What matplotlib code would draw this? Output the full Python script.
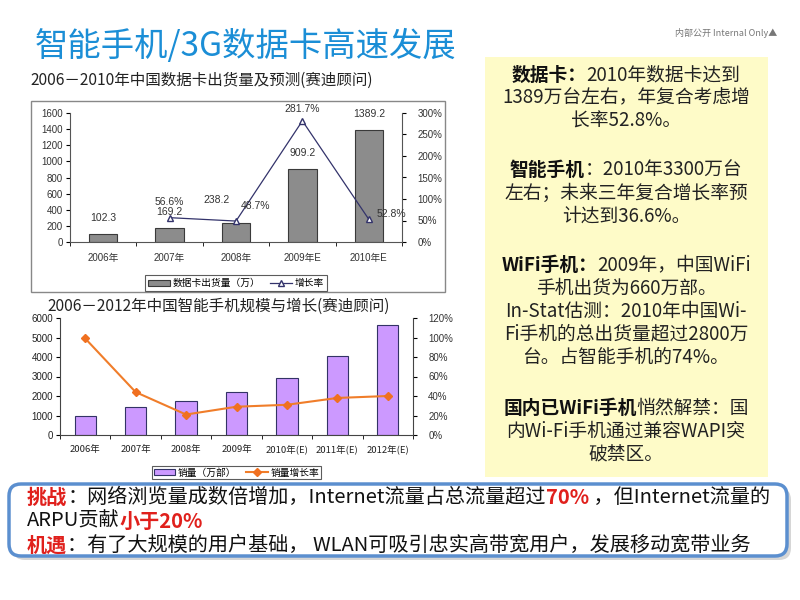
import matplotlib.pyplot as plt
import numpy as np
from matplotlib.patches import Rectangle, FancyBboxPatch

plt.rcParams['font.family'] = ['Noto Sans CJK SC', 'DejaVu Sans']

# chart 1: data cards
card_years = ['2006年', '2007年', '2008年', '2009年E', '2010年E']
card_units = [102.3, 169.2, 238.2, 909.2, 1389.2]
card_growth = [None, 56.6, 48.7, 281.7, 52.8]

# chart 2: smartphones
phone_years = ['2006年', '2007年', '2008年', '2009年', '2010年(E)', '2011年(E)', '2012年(E)']
phone_units = [1000, 1450, 1730, 2220, 2920, 4030, 5650]
phone_growth = [99, 44, 21, 29, 31, 38, 40]

W, H = 800, 600
fig = plt.figure(figsize=(8, 6), dpi=100)

# background layer in pixel coordinates
bg = fig.add_axes([0, 0, 1, 1], zorder=0)
bg.set_xlim(0, W)
bg.set_ylim(H, 0)
bg.axis('off')


def pos(l, t, r, b):
    return [l / W, 1 - b / H, (r - l) / W, (b - t) / H]


renderer = fig.canvas.get_renderer()


def rich_line(runs, y, x=None, center=None, size=12.5):
    objs = []
    for s, kw in runs:
        t = bg.text(0, y, s, fontsize=size, va='center', ha='left', **kw)
        objs.append(t)
    widths = [t.get_window_extent(renderer).width for t in objs]
    total = sum(widths)
    x0 = x if x is not None else center - total / 2
    for t, w in zip(objs, widths):
        t.set_x(x0)
        x0 += w


# title
bg.text(35, 47, '智能手机/3G数据卡高速发展', fontsize=24, color='#1b8ed6', va='center')
bg.text(777, 33, '内部公开 Internal Only▲', fontsize=6.5, color='#777777', ha='right', va='center')

# chart 1 frame + title
bg.add_patch(Rectangle((31, 101), 414, 191, fill=False, ec='#888888', lw=1))
bg.text(30, 80, '2006－2010年中国数据卡出货量及预测(赛迪顾问)', fontsize=11.2, color='#222222', va='center')

tick_font = {'family': ['Liberation Sans', 'Noto Sans CJK SC'], 'size': 7}
ax1 = fig.add_axes(pos(70, 113, 402, 242), zorder=2)
ax1.set_facecolor('none')
x1 = np.arange(len(card_years))
ax1.bar(x1, card_units, width=0.43, color='#8c8c8c', edgecolor='#3a3a3a', lw=0.8)
ax1.set_xlim(-0.5, len(card_years) - 0.5)
ax1.set_ylim(0, 1600)
ax1.set_yticks(range(0, 1601, 200))
ax1.set_xticks(x1)
ax1.set_xticklabels(card_years)
ax1.set_xticks(np.arange(-0.5, len(card_years), 1), minor=True)
ax1.tick_params(axis='x', which='major', length=0, pad=8)
ax1.tick_params(axis='x', which='minor', length=3, direction='out')
ax1.tick_params(axis='y', length=3, direction='out', pad=2)
for lab in ax1.get_xticklabels() + ax1.get_yticklabels():
    lab.set_fontproperties(tick_font)
    lab.set_color('#333333')
for s in ['top', 'right']:
    ax1.spines[s].set_visible(False)
for s in ['left', 'bottom']:
    ax1.spines[s].set_color('#555555')

ax1r = ax1.twinx()
gx = [i for i, g in enumerate(card_growth) if g is not None]
gy = [g for g in card_growth if g is not None]
ln1, = ax1r.plot(gx, gy, color='#33336b', lw=0.9, marker='^', ms=5, mfc='white', mec='#33336b')
ax1r.set_ylim(0, 300)
ax1r.set_yticks(range(0, 301, 50))
ax1r.set_yticklabels([f'{v}%' for v in range(0, 301, 50)])
ax1r.tick_params(axis='y', length=3, direction='out', pad=8)
for lab in ax1r.get_yticklabels():
    lab.set_fontproperties(tick_font)
    lab.set_color('#333333')
for s in ['top', 'left', 'bottom']:
    ax1r.spines[s].set_visible(False)
ax1r.spines['right'].set_color('#555555')

lab_off = [(0, 8), (0, 8), (-14, 13), (0, 8), (0, 8)]
for i, v in enumerate(card_units):
    ax1.annotate(f'{v:.1f}', (i, v), xytext=lab_off[i], textcoords='offset points',
                 ha='center', va='bottom', fontsize=7.5, color='#333333',
                 family=['Liberation Sans', 'DejaVu Sans'])
g_off = [None, (0, 8), (14, 7), (0, 5), (16, 0)]
for i, g in enumerate(card_growth):
    if g is None:
        continue
    ax1r.annotate(f'{g}%', (i, g), xytext=g_off[i], textcoords='offset points',
                  ha='center', va='bottom', fontsize=7.5, color='#333333',
                  family=['Liberation Sans', 'DejaVu Sans'])

leg1 = ax1.legend([ax1.patches[0], ln1], ['数据卡出货量（万）', '增长率'], loc='upper center',
                  bbox_to_anchor=(0.5, -0.22), ncol=2, fontsize=7, frameon=True, fancybox=False,
                  edgecolor='#333333', handlelength=2.2, handleheight=0.6, columnspacing=1.0,
                  borderpad=0.3, handletextpad=0.3)
leg1.get_frame().set_linewidth(0.8)

# chart 2
bg.text(47, 306, '2006－2012年中国智能手机规模与增长(赛迪顾问)', fontsize=11.2, color='#222222', va='center')
ax2 = fig.add_axes(pos(60, 318, 413, 435), zorder=2)
ax2.set_facecolor('none')
x2 = np.arange(len(phone_years))
ax2.bar(x2, phone_units, width=0.42, color='#cc99ff', edgecolor='#333366', lw=0.8)
ax2.set_xlim(-0.5, len(phone_years) - 0.5)
ax2.set_ylim(0, 6000)
ax2.set_yticks(range(0, 6001, 1000))
ax2.set_xticks(x2)
ax2.set_xticklabels(phone_years)
ax2.set_xticks(np.arange(-0.5, len(phone_years), 1), minor=True)
ax2.tick_params(axis='x', which='major', length=0, pad=7)
ax2.tick_params(axis='x', which='minor', length=3, direction='out')
ax2.tick_params(axis='y', length=3, direction='out', pad=2)
for lab in ax2.get_xticklabels():
    lab.set_fontsize(6.8)
    lab.set_color('#222222')
for lab in ax2.get_yticklabels():
    lab.set_fontproperties(tick_font)
    lab.set_color('#222222')
for s in ['top', 'right']:
    ax2.spines[s].set_visible(False)
for s in ['left', 'bottom']:
    ax2.spines[s].set_color('#444444')

ax2r = ax2.twinx()
ln2, = ax2r.plot(x2, phone_growth, color='#f07d2a', lw=1.5, marker='D', ms=4.5, mfc='#f07020', mec='#f07020')
ax2r.set_ylim(0, 120)
ax2r.set_yticks(range(0, 121, 20))
ax2r.set_yticklabels([f'{v}%' for v in range(0, 121, 20)])
ax2r.tick_params(axis='y', length=3, direction='out', pad=8)
for lab in ax2r.get_yticklabels():
    lab.set_fontproperties(tick_font)
    lab.set_color('#333333')
for s in ['top', 'left', 'bottom']:
    ax2r.spines[s].set_visible(False)
ax2r.spines['right'].set_color('#444444')

leg2 = ax2.legend([ax2.patches[0], ln2], ['销量（万部）', '销量增长率'], loc='upper center',
                  bbox_to_anchor=(0.5, -0.22), ncol=2, fontsize=7, frameon=True, fancybox=False,
                  edgecolor='#333333', handlelength=2.2, handleheight=0.6, columnspacing=1.0,
                  borderpad=0.2, handletextpad=0.3)
leg2.get_frame().set_linewidth(0.8)

# right yellow note box
bg.add_patch(Rectangle((485, 57), 283, 420, color='#fefbc8', lw=0))
B = {'fontweight': 'bold', 'color': '#111111'}
N = {'color': '#222222'}
cx = 626
notes = [
    (75, [('数据卡：', B), ('2010年数据卡达到', N)]),
    (98, [('1389万台左右，年复合考虑增', N)]),
    (121, [('长率52.8%。', N)]),
    (170, [('智能手机', B), ('：2010年3300万台', N)]),
    (193, [('左右；未来三年复合增长率预', N)]),
    (216, [('计达到36.6%。', N)]),
    (265, [('WiFi手机：', B), ('2009年，中国WiFi', N)]),
    (288, [('手机出货为660万部。', N)]),
    (311, [('In-Stat估测：2010年中国Wi-', N)]),
    (334, [('Fi手机的总出货量超过2800万', N)]),
    (357, [('台。占智能手机的74%。', N)]),
    (408, [('国内已WiFi手机', B), ('悄然解禁：国', N)]),
    (431, [('内Wi-Fi手机通过兼容WAPI突', N)]),
    (455, [('破禁区。', N)]),
]
for y, runs in notes:
    rich_line(runs, y, center=cx, size=13.5)

# bottom rounded box
bg.add_patch(FancyBboxPatch((13, 488), 778, 72, boxstyle='round,pad=0,rounding_size=12',
                            fc='#bbbbbb', ec='none', alpha=0.6))
bg.add_patch(FancyBboxPatch((9, 484), 778, 72, boxstyle='round,pad=0,rounding_size=12',
                            fc='white', ec='#5b8fcf', lw=2.5))
R = {'fontweight': 'bold', 'color': '#e0201c'}
K = {'color': '#111111'}
rich_line([('挑战', R), ('：网络浏览量成数倍增加，Internet流量占总流量超过', K), ('70%', R),
           (' ，但Internet流量的', K)], 497, x=27, size=14.5)
rich_line([('ARPU贡献', K), ('小于20%', R)], 521, x=27, size=14.5)
rich_line([('机遇', R), ('：有了大规模的用户基础， WLAN可吸引忠实高带宽用户，发展移动宽带业务', K)],
          545, x=27, size=14.5)

fig.savefig('out.png', dpi=100)
